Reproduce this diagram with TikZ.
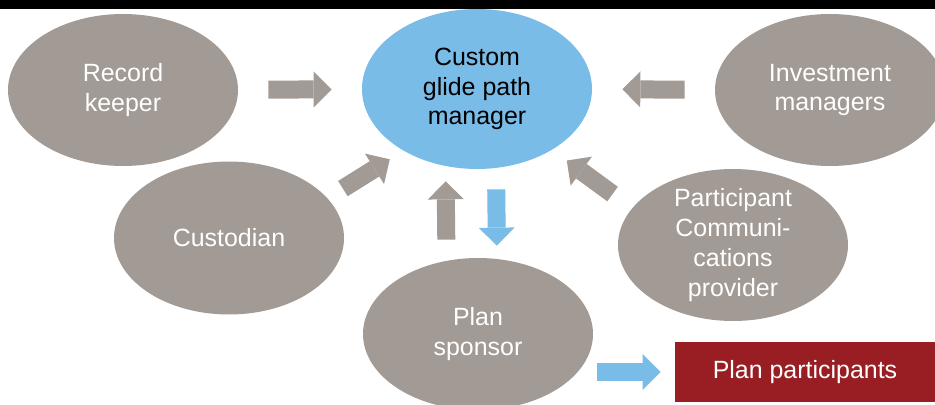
\documentclass[tikz,border=0pt]{standalone}
\usepackage{fontspec}
\setmainfont{Liberation Sans}
\usetikzlibrary{shapes.geometric,arrows.meta}
\definecolor{taupe}{HTML}{A29A94}
\definecolor{skyblue}{HTML}{7ABCE8}
\definecolor{planred}{HTML}{981E24}
\tikzset{
  party/.style={ellipse, fill=taupe, minimum width=4.6cm, minimum height=3.04cm, inner sep=0pt, align=center, text=white, font=\fontsize{14.2}{17}\selectfont},
  graybolt/.style={line width=0.36cm, color=taupe, -{Triangle[width=0.72cm,length=0.36cm,line width=0pt]}},
  bluebolt/.style={graybolt, color=skyblue}
}

\begin{document}
\begin{tikzpicture}
			%%%%% START %%%%%
			\useasboundingbox (0, 0) rectangle (18.7, 8.08);
			
			\node[party] (keeper) at (2.46, 6.28) {Record\\keeper};
			\node[party, fill=skyblue, text=black, minimum height=3.2cm] (glide) at (9.54, 6.3) {Custom\\glide path\\manager};
			\node[party] (invest) at (16.6, 6.28) {Investment\\managers};
			
			\node[party, minimum height=3.06cm] (custodian) at (4.58, 3.32) {Custodian};
			\node[party, inner ysep=-0.15cm] (comms) at (14.66, 3.18) {Participant\\Communi-\\cations\\provider};
			\node[party] (sponsor) at (9.56, 1.4) {Plan\\sponsor};
			
			\node[fill=planred, text=white, minimum width=5.2cm, minimum height=1.2cm, inner sep=0pt, font=\fontsize{14.2}{17}\selectfont] (members) at (16.1, 0.64) {Plan participants};
			
			\draw[fill=black] (0, 7.92) rectangle (18.7, 8.08);
			
			\draw[graybolt, shorten <=0.6cm, shorten >=0.6cm] (keeper) -- (glide);
			\draw[graybolt, shorten <=0.6cm, shorten >=0.6cm] (invest.west) -- (glide.east);
			\draw[graybolt, shorten <=0.36cm, shorten >=0.32cm] (custodian.22) -- (glide.220);
			\draw[graybolt, shorten <=0.48cm, shorten >=0.36cm] (comms.160) -- (glide.321);
			
			\draw[graybolt, shorten <=0.36cm, shorten >=0.24cm] ([xshift=-0.63cm]sponsor.north) -- ([xshift=-0.63cm]glide.south);
			\draw[bluebolt, shorten <=0.4cm, shorten >=0.24cm] ([xshift=0.38cm]glide.south) -- ([xshift=0.38cm]sponsor.north);
			\draw[bluebolt, shorten <=0.08cm, shorten >=0.28cm] (sponsor.east |- members.west) -- (members.west);
			
			%%%%% END %%%%%
\end{tikzpicture}
\end{document}
